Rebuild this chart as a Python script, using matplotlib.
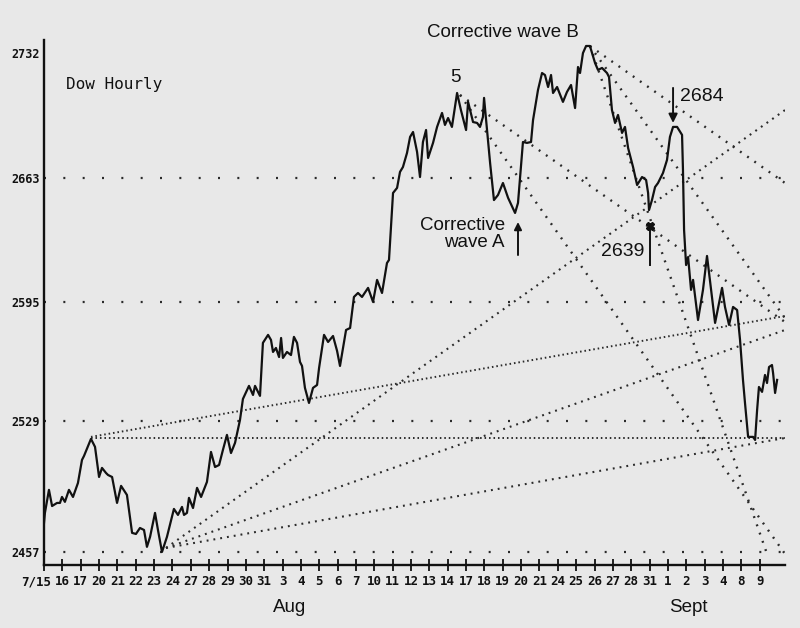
import matplotlib
matplotlib.use('Agg')
import matplotlib.pyplot as plt
from matplotlib.transforms import ScaledTranslation

# hourly Dow, x = trading-day index (7/15 = 0)
hour_pos = [0.00, 0.05, 0.27, 0.44, 0.71, 0.87, 0.98, 1.14, 1.36, 1.58, 1.85, 2.07, 2.18, 2.56, 2.78,
            3.00, 3.16, 3.38, 3.49, 3.71, 3.98, 4.20, 4.52, 4.80, 5.01, 5.23, 5.45, 5.61, 5.78, 6.05,
            6.21, 6.43, 6.70, 7.08, 7.30, 7.52, 7.63, 7.79, 7.90, 8.12, 8.34, 8.56, 8.88, 9.10, 9.32,
            9.54, 9.75, 9.97, 10.19, 10.41, 10.68, 10.84, 11.17, 11.39, 11.50, 11.77, 11.93, 12.21,
            12.37, 12.48, 12.64, 12.81, 12.92, 13.02, 13.24, 13.46, 13.62, 13.79, 13.95, 14.06, 14.22,
            14.44, 14.66, 14.88, 14.99, 15.26, 15.48, 15.75, 15.97, 16.13, 16.46, 16.68, 16.89, 17.11,
            17.33, 17.66, 17.93, 18.15, 18.42, 18.69, 18.80, 18.91, 19.02, 19.24, 19.40, 19.56, 19.78,
            19.95, 20.11, 20.33, 20.49, 20.65, 20.82, 20.93, 21.20, 21.42, 21.69, 21.85, 22.02, 22.23,
            22.51, 22.72, 23.00, 23.11, 23.38, 23.60, 23.76, 23.92, 23.98, 24.14, 24.31, 24.52, 24.74,
            25.01, 25.29, 25.67, 25.83, 26.10, 26.32, 26.54, 26.65, 26.92, 27.14, 27.30, 27.47, 27.63,
            27.74, 27.96, 28.28, 28.50, 28.72, 28.94, 29.10, 29.21, 29.37, 29.54, 29.75, 30.03, 30.19,
            30.41, 30.68, 30.79, 30.95, 31.12, 31.28, 31.50, 31.66, 31.83, 32.10, 32.32, 32.59, 32.81,
            32.92, 32.97, 33.13, 33.30, 33.46, 33.73, 33.95, 34.11, 34.28, 34.50, 34.77, 34.82, 34.88,
            34.99, 35.10, 35.26, 35.37, 35.64, 35.91, 36.13, 36.35, 36.57, 36.95, 37.11, 37.33, 37.55,
            37.77, 37.93, 38.09, 38.20, 38.37, 38.64, 38.75, 38.86, 38.96, 39.13, 39.29, 39.40, 39.51,
            39.67, 39.73, 39.84, 39.95]
dow = [2473.0, 2478.5, 2491.2, 2482.3, 2484.0, 2484.0, 2487.3, 2484.6, 2491.2, 2487.3, 2495.0, 2507.7,
       2509.9, 2519.3, 2514.9, 2498.3, 2503.3, 2500.5, 2499.4, 2498.3, 2484.0, 2493.4, 2488.4, 2467.5,
       2466.9, 2470.2, 2469.1, 2459.8, 2465.3, 2478.5, 2469.1, 2457.0, 2465.3, 2480.7, 2477.4, 2481.8,
       2477.4, 2478.5, 2486.8, 2481.2, 2492.3, 2487.3, 2495.6, 2512.1, 2503.8, 2504.9, 2513.2, 2521.5,
       2511.5, 2517.1, 2529.7, 2541.3, 2548.5, 2543.5, 2548.5, 2543.0, 2572.2, 2576.6, 2573.8, 2567.2,
       2569.4, 2564.4, 2574.9, 2563.9, 2567.2, 2565.5, 2575.5, 2572.2, 2561.7, 2559.5, 2547.4, 2539.1,
       2547.4, 2549.0, 2558.4, 2576.6, 2572.7, 2576.0, 2567.8, 2559.5, 2579.3, 2580.4, 2597.5, 2599.7,
       2597.5, 2602.5, 2594.8, 2606.9, 2599.7, 2616.2, 2617.9, 2636.1, 2654.8, 2657.6, 2666.4, 2669.1,
       2676.8, 2685.7, 2688.4, 2677.4, 2663.6, 2682.9, 2689.5, 2674.1, 2682.4, 2691.2, 2698.9, 2692.3,
       2696.1, 2691.2, 2709.9, 2700.5, 2689.5, 2705.0, 2693.9, 2693.4, 2691.2, 2696.7, 2707.2, 2689.5,
       2671.3, 2650.9, 2653.7, 2660.3, 2652.1, 2643.8, 2649.3, 2682.9, 2682.4, 2682.9, 2695.0, 2711.6,
       2720.9, 2719.8, 2713.2, 2719.8, 2709.9, 2713.2, 2705.0, 2710.5, 2714.3, 2701.6, 2724.2, 2720.9,
       2731.9, 2735.8, 2735.8, 2726.4, 2722.6, 2723.7, 2720.9, 2718.7, 2700.5, 2693.4, 2697.8, 2687.9,
       2691.2, 2679.6, 2669.1, 2659.2, 2663.6, 2662.0, 2654.8, 2645.4, 2650.9, 2658.1, 2660.3, 2665.8,
       2673.0, 2685.7, 2691.2, 2691.2, 2686.8, 2667.5, 2634.4, 2615.1, 2619.5, 2601.4, 2606.9, 2584.8,
       2601.4, 2620.1, 2601.4, 2583.2, 2602.5, 2592.0, 2582.1, 2592.0, 2590.3, 2573.8, 2551.8, 2539.1,
       2520.4, 2520.4, 2518.7, 2535.2, 2547.9, 2545.2, 2554.5, 2550.1, 2558.9, 2560.0, 2555.6, 2544.6,
       2551.8]

day_labels = ['7/15', '16', '17', '20', '21', '22', '23', '24', '27', '28', '29', '30', '31',
              '3', '4', '5', '6', '7', '10', '11', '12', '13', '14', '17', '18', '19', '20', '21',
              '24', '25', '26', '27', '28', '31', '1', '2', '3', '4', '8', '9']
price_ticks = [2457, 2529, 2595, 2663, 2732]
grid_levels = [2457, 2529, 2595, 2663]

# trend lines (day0, price0, day1, price1)
peak_lines = [(2.56, 2520.0, 40.38, 2520.0),      # flat line off the 7/17 high
              (2.56, 2520.4, 40.38, 2587.0)]
low_fan = [(6.65, 2459.2, 40.38, 2700.5),
           (6.65, 2459.2, 40.38, 2579.3),
           (6.65, 2459.2, 40.38, 2519.8)]
top_fan = [(22.67, 2708.8, 40.38, 2583.7),        # from wave 5 top
           (22.67, 2708.8, 40.38, 2455.9),
           (29.75, 2735.8, 40.38, 2660.3),        # from wave B top
           (29.75, 2735.8, 40.38, 2585.9),
           (29.75, 2735.8, 39.46, 2454.2)]

bg = '#e8e8e8'
ink = '#111111'
dots = '#2a2a2a'
mono = 'DejaVu Sans Mono'
sans = 'Liberation Sans'

fig = plt.figure(figsize=(8, 6.28), dpi=100)
fig.patch.set_facecolor(bg)
ax = fig.add_axes([44/800, 1-565/628, 741/800, 525/628])
ax.set_facecolor(bg)
ax.set_xlim(0, 40.38)
ax.set_ylim(2449.8, 2739.1)

for lev in grid_levels:
    ax.axhline(lev, color=dots, lw=1.6, ls=(0, (0.9, 7.8)), zorder=1)

for d0, p0, d1, p1 in peak_lines:
    ax.plot([d0, d1], [p0, p1], color=dots, lw=1.4, ls=(0, (0.8, 1.5)), zorder=1)
for d0, p0, d1, p1 in low_fan:
    ax.plot([d0, d1], [p0, p1], color=dots, lw=1.5, ls=(0, (0.9, 2.4)), zorder=1)
for d0, p0, d1, p1 in top_fan:
    ax.plot([d0, d1], [p0, p1], color=dots, lw=1.7, ls=(0, (0.8, 2.9)), zorder=1)

ax.plot(hour_pos, dow, color=ink, lw=1.6, zorder=3)

# axes look
for s in ['top', 'right']:
    ax.spines[s].set_visible(False)
for s in ['left', 'bottom']:
    ax.spines[s].set_linewidth(1.7)
    ax.spines[s].set_color(ink)

ax.set_yticks(price_ticks)
ax.set_yticklabels([str(v) for v in price_ticks], family=mono, fontsize=8.5, fontweight='bold',
                   color=ink)
ax.tick_params(axis='y', length=0, pad=3)
ax.set_xticks(range(len(day_labels)))
ax.set_xticklabels(day_labels, family=mono, fontsize=9, fontweight='bold', color=ink)
ax.tick_params(axis='x', direction='inout', length=9, width=1.3, pad=3, color=ink)
first = ax.get_xticklabels()[0]
first.set_transform(first.get_transform() + ScaledTranslation(-8/100, 0, fig.dpi_scale_trans))

ax.text(0.03, 0.915, 'Dow Hourly', transform=ax.transAxes, family=mono, fontsize=11.5,
        color=ink, va='center')

ax.text(13.4, 2426.5, 'Aug', ha='center', va='center', family=sans, fontsize=13.5, color=ink,
        clip_on=False)
ax.text(35.1, 2426.5, 'Sept', ha='center', va='center', family=sans, fontsize=13.5, color=ink,
        clip_on=False)

# wave labels
ax.text(25.0, 2743.5, 'Corrective wave B', ha='center', va='center', family=sans, fontsize=13.5,
        color=ink, clip_on=False)
ax.text(22.4, 2718.7, '5', ha='center', va='center', family=sans, fontsize=13.5, color=ink)
ax.text(34.66, 2707.7, '2684', ha='left', va='center', family=sans, fontsize=14, color=ink)
ax.annotate('', xy=(34.28, 2693.4), xytext=(34.28, 2712.7),
            arrowprops=dict(arrowstyle='-|>', color=ink, lw=1.4, mutation_scale=13,
                            shrinkA=0, shrinkB=0))
ax.text(25.12, 2632.2, 'Corrective\nwave A', ha='right', va='center', family=sans, fontsize=13.5,
        color=ink, linespacing=0.95)
ax.annotate('', xy=(25.83, 2638.8), xytext=(25.83, 2620.6),
            arrowprops=dict(arrowstyle='-|>', color=ink, lw=1.4, mutation_scale=11,
                            shrinkA=0, shrinkB=0))
ax.text(32.7, 2622.3, '2639', ha='right', va='center', family=sans, fontsize=14, color=ink)
ax.plot([33.02, 33.02], [2615.1, 2637.7], color=ink, lw=1.4, zorder=4)
ax.plot([33.02], [2636.5], marker='X', ms=6, color=ink, zorder=4)

fig.savefig('out.png', dpi=100, facecolor=bg)
